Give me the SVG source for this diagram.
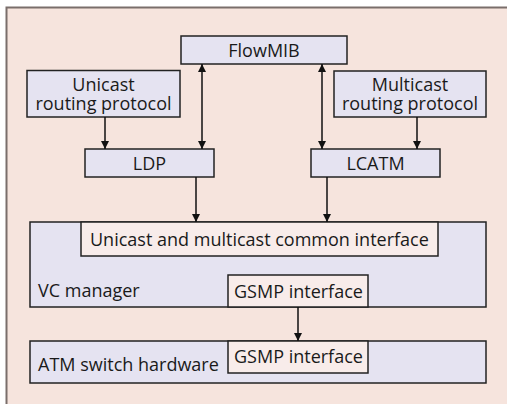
<svg xmlns="http://www.w3.org/2000/svg" width="507" height="404" viewBox="0 0 507 404">
  <defs>
    <marker id="arrow" viewBox="0 0 10 10" refX="10" refY="5" markerWidth="8" markerHeight="10" markerUnits="userSpaceOnUse" orient="auto-start-reverse">
      <path d="M0,0 L10,5 L0,10 Z" fill="#111"/>
    </marker>
    <style>
      .node { fill: #e5e3f1; stroke: #222; stroke-width: 1.5; }
      .iface { fill: #f8ecea; stroke: #222; stroke-width: 1.5; }
      .lbl { font-family: "Open Sans", "Liberation Sans", sans-serif; font-size: 18px; fill: #1a1a1a; }
      .mid { text-anchor: middle; }
      .edge { stroke: #111; stroke-width: 1.5; fill: none; }
    </style>
  </defs>

  <!-- page background and frame -->
  <rect x="0" y="0" width="507" height="404" fill="#ffffff"/>
  <rect x="6" y="7" width="501" height="397" fill="#f6e4dd"/>
  <path d="M6.5,404 V7.5 H507" fill="none" stroke="#7a6e6b" stroke-width="2"/>

  <g id="flowmib">
    <rect class="node" x="181" y="36" width="166" height="28"/>
    <text class="lbl mid" x="264" y="57">FlowMIB</text>
  </g>

  <g id="unicast-routing">
    <rect class="node" x="27" y="70.5" width="153" height="46.5"/>
    <text class="lbl mid" x="103.5" y="91">Unicast</text>
    <text class="lbl mid" x="103.5" y="109.5">routing protocol</text>
  </g>

  <g id="multicast-routing">
    <rect class="node" x="334" y="71" width="152" height="46"/>
    <text class="lbl mid" x="410" y="91">Multicast</text>
    <text class="lbl mid" x="410" y="109.5">routing protocol</text>
  </g>

  <g id="ldp">
    <rect class="node" x="85" y="149" width="129" height="28"/>
    <text class="lbl mid" x="149.5" y="170">LDP</text>
  </g>

  <g id="lcatm">
    <rect class="node" x="311" y="149" width="129" height="28"/>
    <text class="lbl mid" x="375.5" y="170">LCATM</text>
  </g>

  <g id="vc-manager">
    <rect class="node" x="30" y="222" width="456" height="85"/>
    <text class="lbl" x="38" y="297">VC manager</text>
  </g>

  <g id="common-interface">
    <rect class="iface" x="81" y="222" width="357" height="34"/>
    <text class="lbl" x="90" y="246">Unicast and multicast common interface</text>
  </g>

  <g id="vc-gsmp">
    <rect class="iface" x="228" y="275" width="140" height="32"/>
    <text class="lbl" x="234" y="297.5">GSMP interface</text>
  </g>

  <g id="atm-switch">
    <rect class="node" x="30" y="341" width="456" height="42"/>
    <text class="lbl" x="38" y="370.5">ATM switch hardware</text>
  </g>

  <g id="atm-gsmp">
    <rect class="iface" x="228" y="341" width="140" height="32"/>
    <text class="lbl" x="234" y="362.5">GSMP interface</text>
  </g>

  <g id="connectors">
    <line class="edge" x1="105" y1="117" x2="105" y2="149" marker-end="url(#arrow)"/>
    <line class="edge" x1="202" y1="64" x2="202" y2="149" marker-start="url(#arrow)" marker-end="url(#arrow)"/>
    <line class="edge" x1="322" y1="64" x2="322" y2="149" marker-start="url(#arrow)" marker-end="url(#arrow)"/>
    <line class="edge" x1="417" y1="117" x2="417" y2="149" marker-end="url(#arrow)"/>
    <line class="edge" x1="196" y1="177" x2="196" y2="222" marker-end="url(#arrow)"/>
    <line class="edge" x1="327" y1="177" x2="327" y2="222" marker-end="url(#arrow)"/>
    <line class="edge" x1="298" y1="307" x2="298" y2="341" marker-end="url(#arrow)"/>
  </g>
</svg>
